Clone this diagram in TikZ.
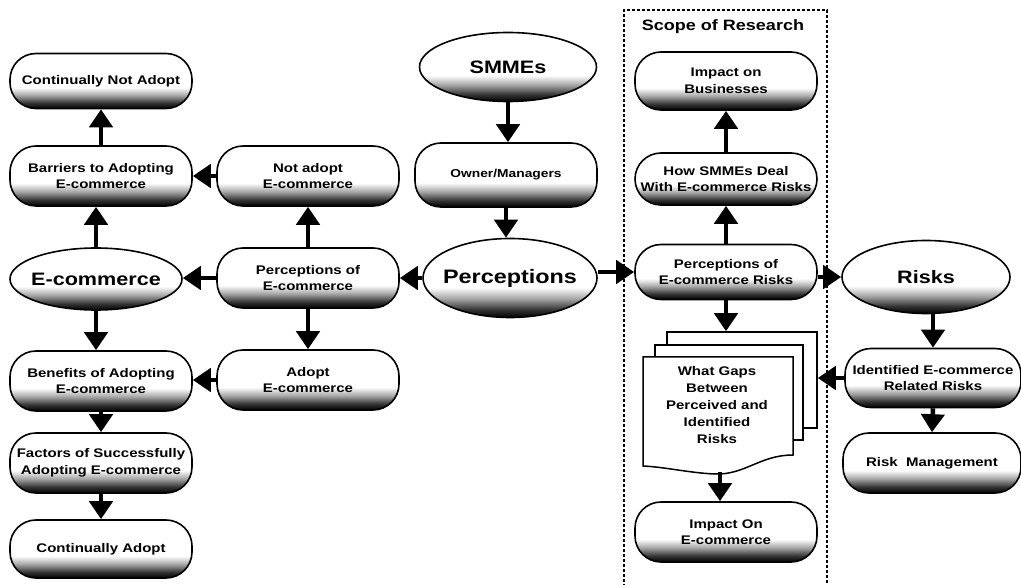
\documentclass[tikz,border=0pt]{standalone}
\usepackage{fontspec}
\newfontfamily\labfont[FakeStretch=1.2]{Liberation Sans}
\usetikzlibrary{shapes.geometric,arrows.meta}
% white body fading into a dark base, like a raised button
\pgfdeclareverticalshading{pillshade}{100bp}{color(0bp)=(black); color(25bp)=(black); color(30bp)=(black!80); color(37bp)=(black!35); color(44bp)=(white); color(100bp)=(white)}
\begin{document}
\begin{tikzpicture}[x=1pt,y=-1pt,
  pill/.style={rectangle, rounded corners=26pt, draw, line width=1.6pt, shading=pillshade,
    minimum width=182pt, minimum height=60pt, inner sep=0pt, align=center,
    font=\labfont\bfseries\fontsize{12.5}{16.5}\selectfont},
  oval/.style={ellipse, draw, line width=1.6pt, shading=pillshade, inner sep=0pt, inner xsep=-20pt,
    font=\labfont\bfseries\fontsize{18}{21}\selectfont},
  flow/.style={line width=4.5pt, -{Triangle[width=23pt,length=18pt]}},
  page/.style={draw, line width=1.5pt, fill=white},
  scopeline/.style={line width=1.2pt, dash pattern=on 3pt off 2pt}
]
\useasboundingbox (0,0) rectangle (1021,585);

% scope of research frame
\draw[scopeline] (624,592) -- (624,10) -- (827,10) -- (827,592);
\node[font=\labfont\bfseries\fontsize{15}{18}\selectfont] (scope) at (723,27) {Scope of Research};

% left column
\node[pill, minimum height=55pt] (cna) at (101,81) {Continually Not Adopt};
\node[pill] (barriers) at (101,176) {Barriers to Adopting\\E-commerce};
\node[oval, minimum width=172pt, minimum height=62pt] (ecom) at (96,279) {E-commerce};
\node[pill] (benefits) at (101,381) {Benefits of Adopting\\E-commerce};
\node[pill] (factors) at (101,463) {Factors of Successfully\\Adopting E-commerce};
\node[pill, minimum height=58pt] (ca) at (101,549) {Continually Adopt};

% second column
\node[pill] (notadopt) at (308,176) {Not adopt\\E-commerce};
\node[pill] (percE) at (308,278) {Perceptions of\\E-commerce};
\node[pill] (adopt) at (308,380) {Adopt\\E-commerce};

% centre column
\node[oval, minimum width=177pt, minimum height=69pt] (smmes) at (508,67) {SMMEs};
\node[pill, minimum height=64pt, font=\labfont\bfseries\fontsize{11.5}{14}\selectfont] (owner) at (506,175) {Owner/Managers};
\node[oval, minimum width=174pt, minimum height=79pt, font=\labfont\bfseries\fontsize{19.5}{23}\selectfont] (perc) at (510,278) {Perceptions};

% research column
\node[pill, minimum height=58pt] (impactB) at (726,81) {Impact on\\Businesses};
\node[pill, minimum height=52pt] (how) at (726,179) {How SMMEs Deal\\With E-commerce Risks};
\node[pill, minimum height=55pt] (percR) at (726,272) {Perceptions of\\E-commerce Risks};

% stacked document
\node[page, minimum width=150pt, minimum height=96pt, inner sep=0pt] (page3) at (742,380) {};
\node[page, minimum width=148pt, minimum height=95pt, inner sep=0pt] (page2) at (729,392.5) {};
\draw[page] (643,357) -- (793,357) -- (793,455)
  .. controls (760,455) and (745,475) .. (715,474)
  .. controls (690,473) and (665,467) .. (643,466) -- cycle;
\node[align=center, font=\labfont\bfseries\fontsize{12.5}{17}\selectfont] (gaps) at (717,405)
  {What Gaps\\Between\\Perceived and\\Identified\\Risks};
\coordinate (docbot) at (720,472);
\node[pill] (impactE) at (726,532) {Impact On\\E-commerce};

% right column
\node[oval, minimum width=168pt, minimum height=73pt] (risks) at (926,277) {Risks};
\node[pill, minimum width=176pt, minimum height=59pt] (ident) at (933,378) {Identified E-commerce\\Related Risks};
\node[pill, minimum width=178pt] (riskm) at (932,463) {Risk\ \ Management};

% connectors
\draw[flow] (barriers.north) -- (cna.south);
\draw[flow] (notadopt.west) -- (barriers.east);
\draw[flow] (ecom.north) -- (ecom.north |- barriers.south);
\draw[flow] (percE.north) -- (notadopt.south);
\draw[flow] (percE.west) -- (percE.west -| ecom.east);
\draw[flow] (ecom.south) -- (ecom.south |- benefits.north);
\draw[flow] (percE.south) -- (adopt.north);
\draw[flow] (adopt.west) -- (adopt.west -| benefits.east);
\draw[flow] (benefits.south) -- (factors.north);
\draw[flow] (factors.south) -- (ca.north);
\draw[flow] (smmes.south) -- (smmes.south |- owner.north);
\draw[flow] (owner.south) -- (owner.south |- perc.north);
\draw[flow] (perc.west) -- (percE.east);
\draw[flow] (percR.west -| perc.east) -- (percR.west);
\draw[flow] (percR.north) -- (how.south);
\draw[flow] (how.north) -- (impactB.south);
\draw[flow] (risks.west -| percR.east) -- (risks.west);
\draw[flow] (percR.south) -- (percR.south |- page3.north);
\draw[flow] (docbot) -- (docbot |- impactE.north);
\draw[flow] (risks.south -| ident.north) -- (ident.north);
\draw[flow] (ident.west) -- (ident.west -| page3.east);
\draw[flow] (ident.south) -- (riskm.north);
\end{tikzpicture}
\end{document}
